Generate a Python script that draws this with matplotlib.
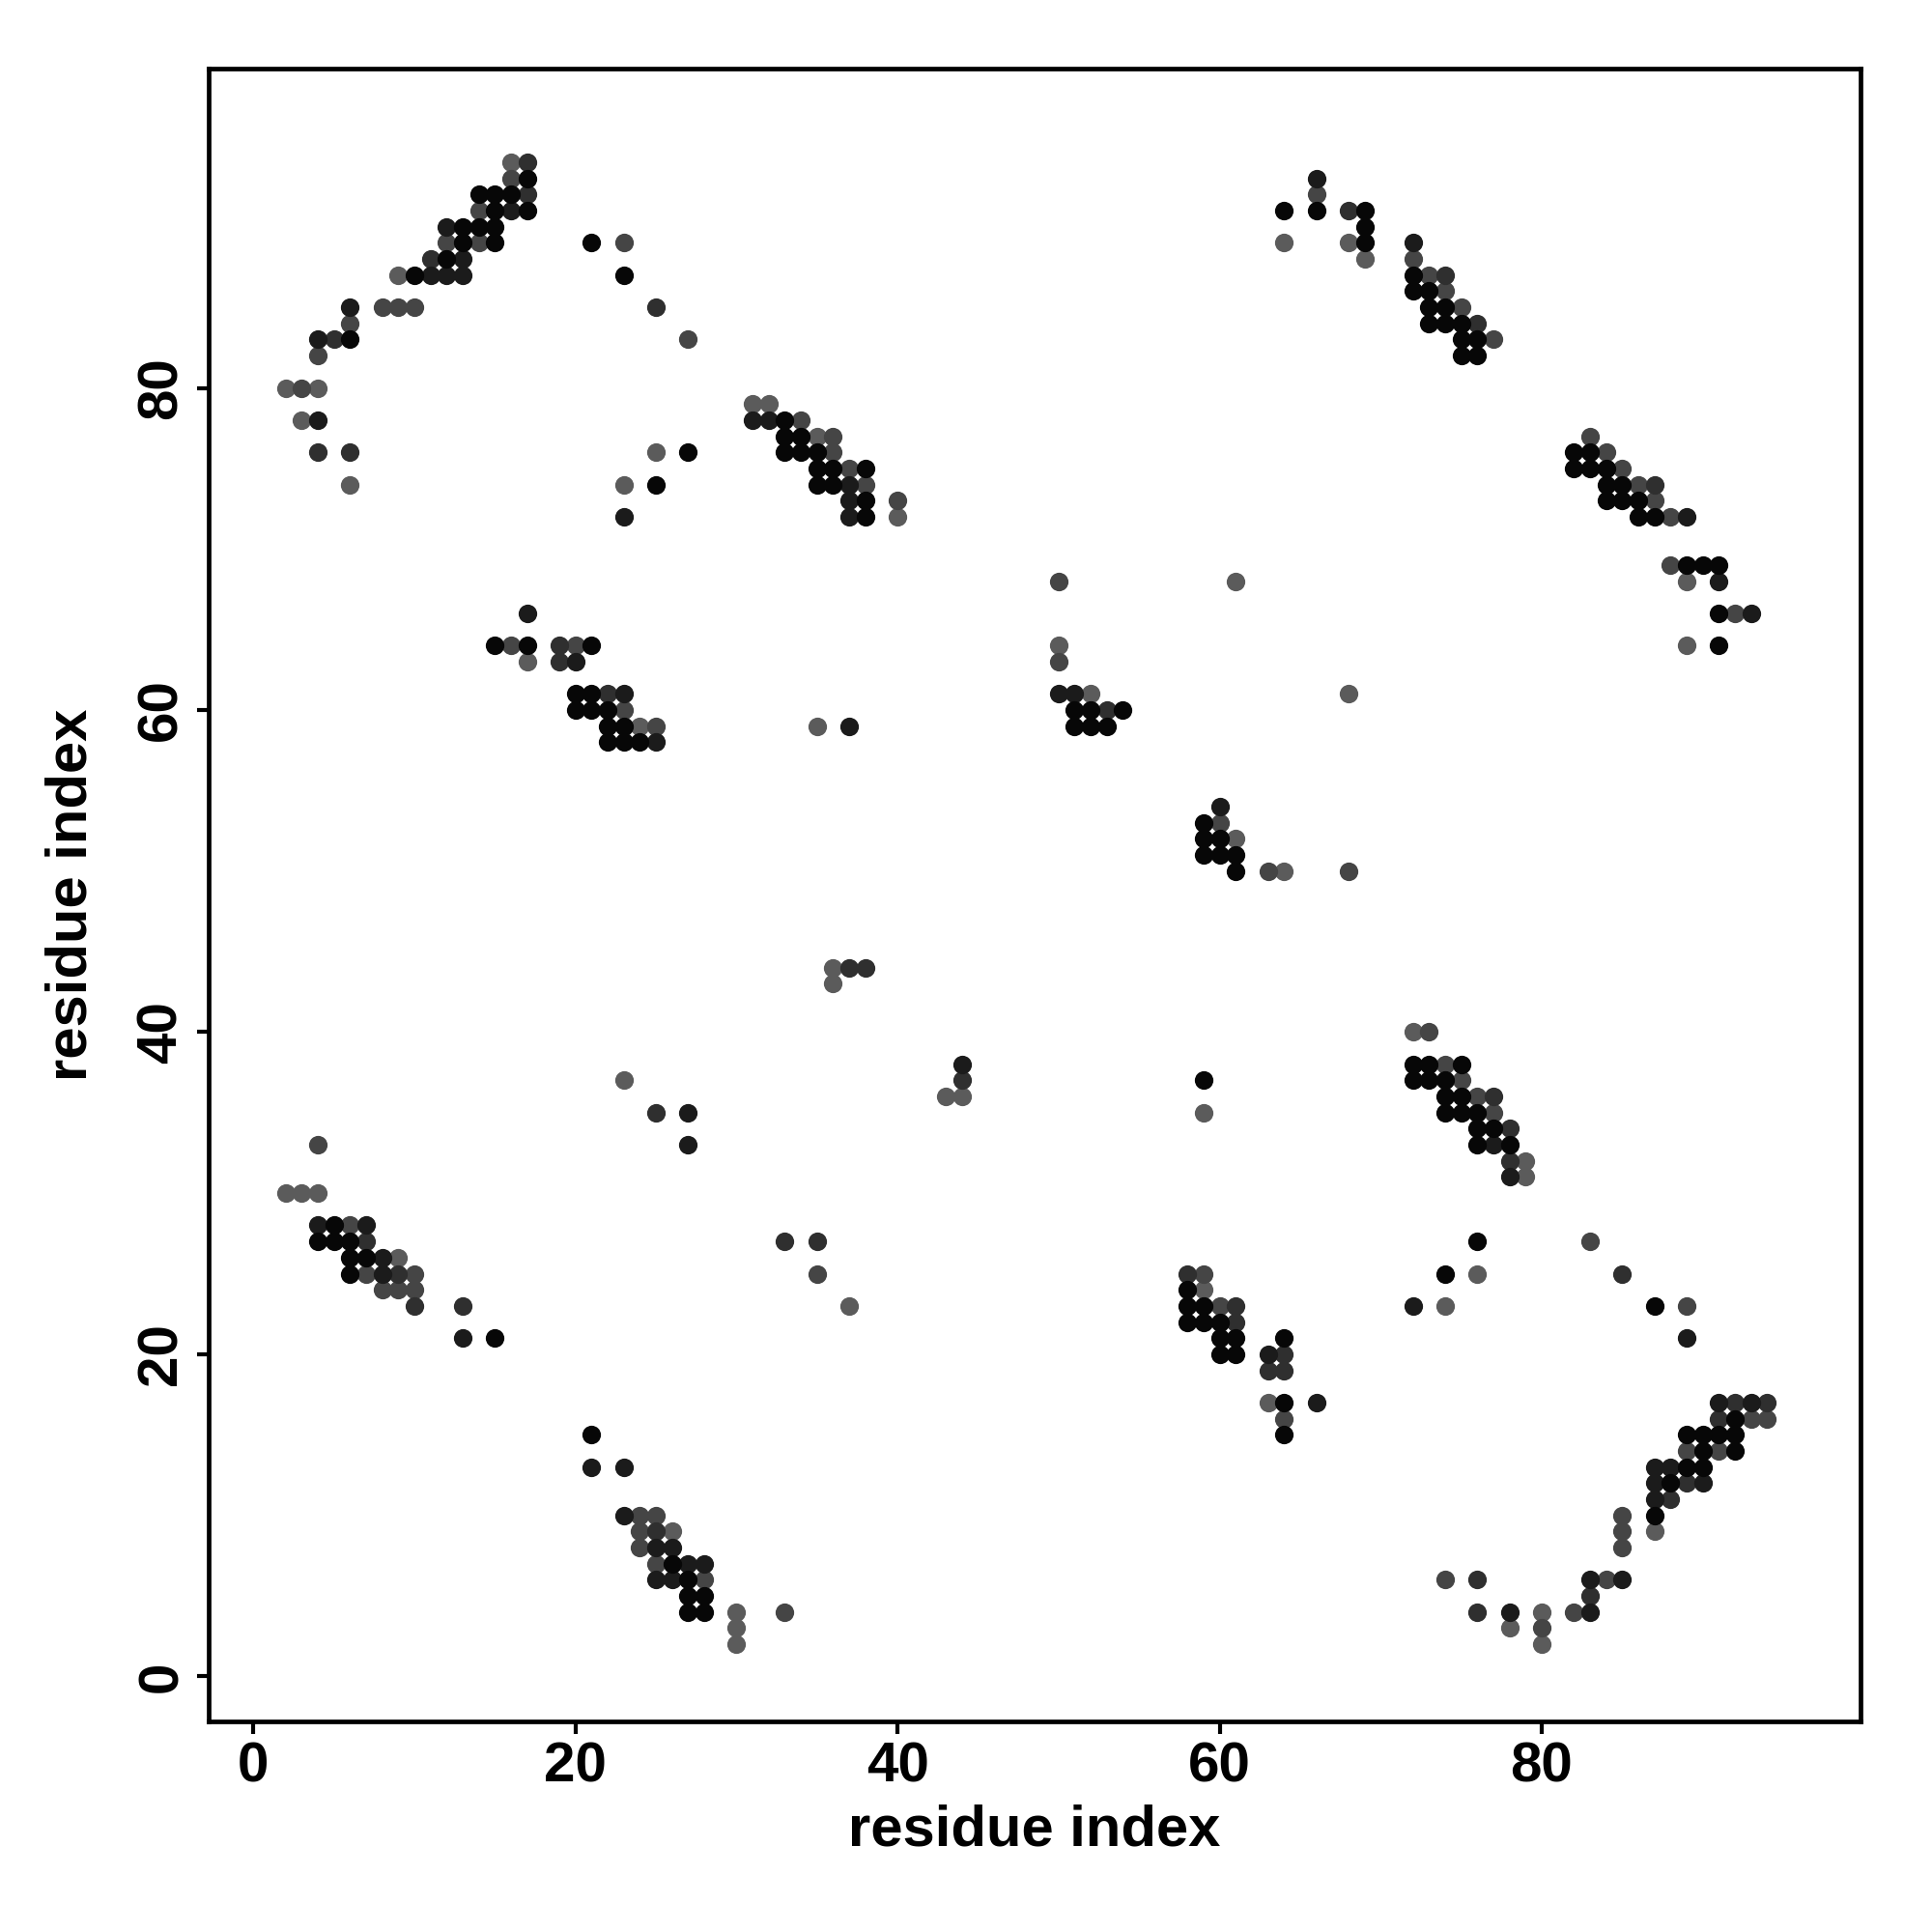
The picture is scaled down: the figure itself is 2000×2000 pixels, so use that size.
import matplotlib
matplotlib.use("Agg")
import matplotlib.pyplot as plt

# contacts (residue i, residue j), grouped by shade: 5 = darkest ... 1 = lightest
contacts_5 = [
    (17, 93), (14, 92), (15, 92), (16, 92), (15, 91), (17, 91), (13, 90), (14, 90), (15, 90),
    (13, 89), (15, 89), (12, 88), (10, 87), (6, 83), (21, 89), (23, 87), (27, 76), (25, 74),
    (33, 78), (33, 77), (34, 77), (33, 76), (34, 76), (35, 76), (35, 75), (36, 75), (38, 75),
    (35, 74), (36, 74), (38, 73), (38, 72),
    (64, 91), (66, 91), (69, 91), (69, 90), (69, 89), (72, 87), (72, 86), (73, 86), (73, 85),
    (74, 85), (73, 84), (74, 84), (75, 84), (75, 83), (76, 83), (75, 82), (76, 82),
    (82, 76), (83, 76), (82, 75), (83, 75), (84, 75), (84, 74), (85, 74), (84, 73), (85, 73),
    (86, 73), (86, 72), (87, 72), (89, 69), (90, 69), (91, 69), (91, 66), (91, 64),
    (15, 64), (17, 64), (21, 64), (20, 61), (21, 61), (20, 60), (21, 60), (22, 60), (22, 59),
    (23, 59), (22, 58), (23, 58), (24, 58),
    (51, 60), (52, 60), (54, 60), (51, 59), (52, 59), (53, 59), (59, 53), (59, 52), (60, 52),
    (59, 51), (60, 51), (61, 51), (61, 50),
    (59, 37), (72, 38), (73, 38), (75, 38), (72, 37), (73, 37), (74, 37), (74, 36), (75, 36),
    (74, 35), (75, 35), (76, 35), (76, 34), (77, 34), (76, 33), (78, 33),
    (5, 28), (4, 27), (5, 27), (6, 27), (6, 26), (7, 26), (6, 25), (15, 21), (21, 15),
    (26, 7), (27, 6), (27, 5), (28, 5), (27, 4), (28, 4),
    (58, 24), (58, 23), (59, 23), (58, 22), (59, 22), (60, 22), (60, 21), (61, 21), (64, 21),
    (60, 20), (61, 20), (64, 17), (64, 15),
    (74, 25), (76, 27), (87, 23), (92, 16), (89, 15), (90, 15), (91, 15), (92, 15), (90, 14),
    (92, 14), (89, 13), (90, 13), (88, 12), (87, 10),
]
contacts_4 = [
    (16, 91), (12, 90), (13, 88), (11, 87), (12, 87), (13, 87), (6, 85), (4, 83), (4, 78),
    (17, 66), (23, 72), (31, 78), (32, 78), (37, 74), (37, 73), (37, 72),
    (66, 93), (72, 89), (89, 72), (91, 68), (93, 66),
    (20, 63), (23, 61), (25, 58), (37, 59), (50, 61), (51, 61), (60, 54), (44, 38),
    (27, 35), (27, 33), (78, 31), (77, 33),
    (4, 28), (7, 28), (8, 26), (8, 25), (13, 21), (21, 13), (23, 13),
    (23, 10), (25, 8), (26, 8), (27, 7), (28, 7), (25, 6), (26, 6), (63, 20), (66, 17),
    (72, 23), (89, 21), (91, 17), (93, 17), (87, 13), (88, 13), (87, 12), (90, 12), (87, 11),
    (83, 6), (85, 6), (78, 4), (83, 4),
]
contacts_3 = [
    (17, 94), (17, 92), (11, 88), (5, 83), (4, 76), (6, 76), (25, 85),
    (68, 91), (74, 87), (76, 84), (87, 74),
    (19, 64), (19, 63), (22, 61), (53, 60), (37, 44), (38, 44), (44, 37), (25, 35),
    (77, 36), (78, 34), (78, 32),
    (7, 27), (9, 25), (10, 23), (13, 23), (33, 27), (35, 27),
    (25, 9), (58, 25), (61, 23), (61, 22), (64, 20), (63, 19), (64, 19),
    (85, 25), (92, 17), (94, 17), (91, 16), (89, 12), (88, 11), (76, 6), (83, 5), (76, 4),
]
contacts_2 = [
    (16, 93), (14, 91), (12, 89), (14, 89), (8, 85), (9, 85), (10, 85), (6, 84), (4, 82),
    (3, 80), (23, 89), (27, 83),
    (34, 78), (36, 77), (36, 76), (37, 75), (38, 74), (40, 73),
    (66, 92), (72, 88), (73, 87), (74, 86), (75, 85), (77, 83),
    (83, 77), (84, 76), (85, 75), (86, 74), (87, 73), (88, 72), (88, 69), (92, 66),
    (16, 64), (20, 64), (23, 60), (25, 59), (50, 68), (50, 63), (60, 53), (63, 50), (68, 50),
    (4, 33), (73, 40), (74, 38), (75, 37), (76, 36), (77, 35),
    (6, 28), (7, 25), (10, 25), (8, 24), (9, 24), (10, 24), (35, 25),
    (24, 10), (25, 10), (24, 9), (24, 8), (25, 7), (28, 6), (33, 4),
    (59, 25), (60, 23), (64, 16),
    (83, 27), (89, 23), (93, 16), (94, 16), (89, 14), (91, 14), (85, 10), (85, 9), (85, 8),
    (74, 6), (84, 6), (82, 4), (80, 3),
]
contacts_1 = [
    (16, 94), (9, 87), (2, 80), (4, 80), (3, 78), (6, 74), (25, 76), (23, 74),
    (31, 79), (32, 79), (35, 77), (40, 72), (64, 89), (68, 89), (69, 88),
    (89, 68), (89, 64), (17, 63), (24, 59), (35, 59),
    (61, 68), (68, 61), (50, 64), (52, 61), (61, 52), (64, 50),
    (36, 44), (36, 43), (43, 36), (44, 36), (23, 37), (59, 35), (72, 40), (79, 32), (79, 31),
    (2, 30), (3, 30), (4, 30), (9, 26), (37, 23), (26, 9), (30, 4), (30, 3), (30, 2),
    (59, 24), (63, 17), (76, 25), (74, 23), (87, 9), (80, 4), (78, 3), (80, 2),
]

ticks = [0, 20, 40, 60, 80]


def main():
    plt.rcParams["font.family"] = ["Liberation Sans", "DejaVu Sans"]
    plt.rcParams["font.weight"] = "bold"

    fig = plt.figure(figsize=(10, 10), dpi=200)
    ax = fig.add_axes([0.1078, 0.109, 0.8552, 0.8553])

    groups = [
        (contacts_1, "#5b5b5b"),
        (contacts_2, "#454545"),
        (contacts_3, "#2f2f2f"),
        (contacts_4, "#1b1b1b"),
        (contacts_5, "#070707"),
    ]
    for pts, col in groups:
        xs = [p[0] for p in pts]
        ys = [p[1] for p in pts]
        ax.scatter(xs, ys, s=48, c=col, linewidths=0, zorder=3)

    ax.set_xlim(-2.8, 99.8)
    ax.set_ylim(-2.8, 99.8)
    ax.set_xticks(ticks)
    ax.set_yticks(ticks)
    ax.tick_params(axis="both", direction="out", length=4.5, width=1.5,
                   labelsize=21, pad=3)
    for lab in ax.get_yticklabels():
        lab.set_rotation(90)
        lab.set_va("center")

    for sp in ax.spines.values():
        sp.set_linewidth(1.7)

    ax.set_xlabel("residue index", fontsize=21.5, fontweight="bold")
    ax.set_ylabel("residue index", fontsize=21.5, fontweight="bold")
    ax.xaxis.set_label_coords(0.5, -0.05)
    ax.yaxis.set_label_coords(-0.067, 0.5)

    fig.savefig("out.png", dpi=200)


if __name__ == "__main__":
    main()
